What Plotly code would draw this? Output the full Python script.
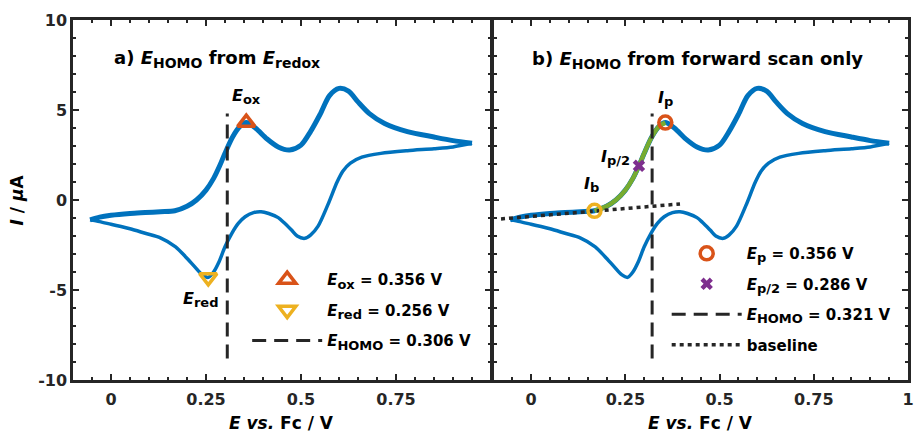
import plotly.graph_objects as go

# ---------------- data ----------------
E_fwd = [-0.055, -0.03, 0.0, 0.05, 0.09, 0.13, 0.168, 0.2, 0.225, 0.25, 0.27, 0.286,
         0.30, 0.32, 0.34, 0.356, 0.38, 0.41, 0.44, 0.47, 0.50, 0.525, 0.55, 0.575,
         0.60, 0.625, 0.65, 0.68, 0.72, 0.78, 0.85, 0.90, 0.95]
I_fwd = [-1.1, -0.95, -0.85, -0.75, -0.7, -0.65, -0.6, -0.35, 0.0, 0.55, 1.2, 1.9,
         2.6, 3.5, 4.1, 4.3, 4.0, 3.4, 2.95, 2.78, 3.05, 3.8, 4.75, 5.8,
         6.2, 6.05, 5.45, 4.8, 4.25, 3.8, 3.5, 3.3, 3.15]

E_rev = [0.95, 0.90, 0.85, 0.78, 0.71, 0.66, 0.63, 0.61, 0.595, 0.57, 0.545, 0.525,
         0.51, 0.49, 0.475, 0.455, 0.44, 0.415, 0.395, 0.375, 0.353, 0.335, 0.318,
         0.30, 0.285, 0.27, 0.256, 0.24, 0.22, 0.196, 0.17, 0.13, 0.09, 0.05, 0.0,
         -0.03, -0.055]
I_rev = [3.15, 2.95, 2.85, 2.74, 2.59, 2.38, 2.05, 1.6, 1.0, -0.3, -1.45, -1.95,
         -2.13, -2.0, -1.67, -1.25, -0.98, -0.75, -0.65, -0.7, -0.93, -1.3, -1.85,
         -2.6, -3.4, -4.0, -4.3, -4.15, -3.7, -3.15, -2.6, -2.1, -1.85, -1.6, -1.35,
         -1.2, -1.1]

E_ox, I_ox = 0.356, 4.3
E_red, I_red = 0.256, -4.3
E_homo_a = 0.306
E_p, I_p = 0.356, 4.3
E_p2, I_p2 = 0.286, 1.9
E_b, I_b = 0.168, -0.6
E_homo_b = 0.321
homo_line_I = [-8.8, 4.8]
baseline_E = [-0.08, 0.395]
baseline_I = [-1.05, -0.22]

x_ticks_a = [0, 0.25, 0.5, 0.75]
x_labels_a = ["0", "0.25", "0.5", "0.75"]
x_ticks_b = [0, 0.25, 0.5, 0.75, 1]
x_labels_b = ["0", "0.25", "0.5", "0.75", "1"]
y_ticks = [-10, -5, 0, 5, 10]
y_labels = ["-10", "-5", "0", "5", "10"]

# ---------------- styles ----------------
FONT = "DejaVu Sans"
AX = "#262626"
BLUE = "#0072BD"
ORANGE = "#D95319"
YELLOW = "#EDB120"
PURPLE = "#7E2F8E"
GREEN = "#77AC30"


def sub(s, px=13):
    return '<sub><span style="font-size:%dpx">%s</span></sub>' % (px, s)


seg_E = [e for e in E_fwd if E_b <= e <= E_p]
seg_I = [i for e, i in zip(E_fwd, I_fwd) if E_b <= e <= E_p]

fig = go.Figure()


def add_cv(xa, ya):
    fig.add_trace(go.Scatter(x=E_fwd, y=I_fwd, mode="lines", xaxis=xa, yaxis=ya,
                             line=dict(color=BLUE, width=5, shape="spline", smoothing=0.8),
                             showlegend=False, hoverinfo="skip"))
    fig.add_trace(go.Scatter(x=E_rev, y=I_rev, mode="lines", xaxis=xa, yaxis=ya,
                             line=dict(color=BLUE, width=3.5, shape="spline", smoothing=0.8),
                             showlegend=False, hoverinfo="skip"))


# panel a
add_cv("x", "y")
fig.add_trace(go.Scatter(x=[E_homo_a, E_homo_a], y=homo_line_I, mode="lines",
                         line=dict(color=AX, width=3, dash="14px,8px"),
                         name="<i>E</i>" + sub("HOMO") + " = 0.306 V", legend="legend",
                         legendgroup="a3", legendrank=3, xaxis="x", yaxis="y"))
fig.add_trace(go.Scatter(x=[E_ox], y=[I_ox], mode="markers",
                         marker=dict(symbol="triangle-up-open", size=15, color=ORANGE,
                                     line=dict(width=3.5, color=ORANGE)),
                         name="<i>E</i>" + sub("ox") + " = 0.356 V", legend="legend",
                         legendgroup="a1", legendrank=1, xaxis="x", yaxis="y"))
fig.add_trace(go.Scatter(x=[E_red], y=[I_red], mode="markers",
                         marker=dict(symbol="triangle-down-open", size=15, color=YELLOW,
                                     line=dict(width=3.5, color=YELLOW)),
                         name="<i>E</i>" + sub("red") + " = 0.256 V", legend="legend",
                         legendgroup="a2", legendrank=2, xaxis="x", yaxis="y"))

# panel b
add_cv("x2", "y2")
fig.add_trace(go.Scatter(x=seg_E, y=seg_I, mode="lines", xaxis="x2", yaxis="y2",
                         line=dict(color=GREEN, width=4.5, shape="spline", smoothing=0.8),
                         showlegend=False, hoverinfo="skip"))
fig.add_trace(go.Scatter(x=baseline_E, y=baseline_I, mode="lines",
                         line=dict(color=AX, width=3.5, dash="4px,4px"),
                         name="baseline", legend="legend2", legendgroup="b4", legendrank=4,
                         xaxis="x2", yaxis="y2"))
fig.add_trace(go.Scatter(x=[E_homo_b, E_homo_b], y=homo_line_I, mode="lines",
                         line=dict(color=AX, width=3, dash="14px,8px"),
                         name="<i>E</i>" + sub("HOMO") + " = 0.321 V", legend="legend2",
                         legendgroup="b3", legendrank=3, xaxis="x2", yaxis="y2"))
fig.add_trace(go.Scatter(x=[E_p], y=[I_p], mode="markers",
                         marker=dict(symbol="circle-open", size=13, color=ORANGE,
                                     line=dict(width=3.5, color=ORANGE)),
                         name="<i>E</i>" + sub("p") + " = 0.356 V", legend="legend2",
                         legendgroup="b1", legendrank=1, xaxis="x2", yaxis="y2"))
fig.add_trace(go.Scatter(x=[E_p2], y=[I_p2], mode="markers",
                         marker=dict(symbol="x", size=11, color=PURPLE,
                                     line=dict(width=0)),
                         name="<i>E</i>" + sub("p/2") + " = 0.286 V", legend="legend2",
                         legendgroup="b2", legendrank=2, xaxis="x2", yaxis="y2"))
fig.add_trace(go.Scatter(x=[E_b], y=[I_b], mode="markers",
                         marker=dict(symbol="circle-open", size=13, color=YELLOW,
                                     line=dict(width=3.5, color=YELLOW)),
                         showlegend=False, xaxis="x2", yaxis="y2"))

tickfont = dict(family=FONT, size=16, color=AX, weight="bold")
common_x = dict(range=[-0.1, 1.0], showline=True, mirror="ticks", linecolor=AX,
                linewidth=2.5, ticks="inside", ticklen=6, tickwidth=2, tickcolor=AX,
                showgrid=False, zeroline=False, tickfont=tickfont,
                tickmode="array", ticklabelstandoff=3,
                minor=dict(tick0=0, dtick=0.05, ticks="inside", ticklen=3.5,
                           tickwidth=2, tickcolor=AX, showgrid=False))
common_y = dict(range=[-10, 10], showline=True, mirror="ticks", linecolor=AX,
                linewidth=2.5, ticks="inside", ticklen=6, tickwidth=2, tickcolor=AX,
                showgrid=False, zeroline=False,
                tickmode="array", tickvals=y_ticks, ticktext=y_labels,
                minor=dict(tick0=0, dtick=1, ticks="inside", ticklen=3.5,
                           tickwidth=2, tickcolor=AX, showgrid=False))

split_a = 421 / 841
split_b = 423.5 / 841
legend_font = dict(family=FONT, size=15, color="#000000", weight="bold")

fig.update_layout(
    width=919, height=435,
    margin=dict(l=73, r=5, t=20, b=55),
    paper_bgcolor="white", plot_bgcolor="white",
    showlegend=True,
    xaxis=dict(domain=[0, split_a], anchor="y", tickvals=x_ticks_a, ticktext=x_labels_a, **common_x),
    xaxis2=dict(domain=[split_b, 1], anchor="y2", tickvals=x_ticks_b, ticktext=x_labels_b, **common_x),
    yaxis=dict(domain=[0, 1], anchor="x", tickfont=tickfont, **common_y),
    yaxis2=dict(domain=[0, 1], anchor="x2", showticklabels=False, **common_y),
    legend=dict(x=0.2086, y=0.324, xanchor="left", yanchor="top",
                bgcolor="rgba(0,0,0,0)", font=legend_font, itemwidth=70,
                tracegroupgap=8, traceorder="grouped"),
    legend2=dict(x=0.711, y=0.397, xanchor="left", yanchor="top",
                 bgcolor="rgba(0,0,0,0)", font=legend_font, itemwidth=70,
                 tracegroupgap=8, traceorder="grouped"),
)

ann_font = dict(family=FONT, size=16, color="#000000", weight="bold")
title_font = dict(family=FONT, size=18, color="#000000", weight="bold")
axis_title_font = dict(family=FONT, size=17, color="#000000", weight="bold")

annotations = [
    dict(text="a) <i>E</i>" + sub("HOMO", 14) + " from <i>E</i>" + sub("redox", 14),
         xref="paper", yref="paper",
         x=(112 - 73) / 841, y=1 - (59 - 20) / 360, xanchor="left", yanchor="middle",
         showarrow=False, font=title_font),
    dict(text="b) <i>E</i>" + sub("HOMO", 14) + " from forward scan only",
         xref="paper", yref="paper",
         x=(533 - 73) / 841, y=1 - (60 - 20) / 360, xanchor="left", yanchor="middle",
         showarrow=False, font=title_font),
    dict(text="<i>E</i>" + sub("ox"), xref="x", yref="y", x=E_ox, y=I_ox, yshift=26,
         showarrow=False, font=ann_font),
    dict(text="<i>E</i>" + sub("red"), xref="x", yref="y", x=E_red, y=I_red, yshift=-22,
         xshift=-8, showarrow=False, font=ann_font),
    dict(text="<i>I</i>" + sub("p"), xref="x2", yref="y2", x=E_p, y=I_p, yshift=24,
         showarrow=False, font=ann_font),
    dict(text="<i>I</i>" + sub("p/2"), xref="x2", yref="y2", x=E_p2, y=I_p2, yshift=8,
         xshift=-23, showarrow=False, font=ann_font),
    dict(text="<i>I</i>" + sub("b"), xref="x2", yref="y2", x=E_b, y=I_b, yshift=26,
         xshift=-3, showarrow=False, font=ann_font),
    dict(text="<i>E vs.</i> Fc / V", xref="paper", yref="paper", x=(283.5 - 73) / 841,
         y=-(423 - 380) / 360, xanchor="center", yanchor="middle", showarrow=False,
         font=axis_title_font),
    dict(text="<i>E vs.</i> Fc / V", xref="paper", yref="paper", x=(705 - 73) / 841,
         y=-(423 - 380) / 360, xanchor="center", yanchor="middle", showarrow=False,
         font=axis_title_font),
    dict(text="<i>I</i> / <i>μ</i>A", xref="paper", yref="paper", x=(17 - 73) / 841,
         y=0.5, xanchor="center", yanchor="middle", textangle=-90, showarrow=False,
         font=axis_title_font),
]
fig.update_layout(annotations=annotations)

fig.write_html("out.html")
